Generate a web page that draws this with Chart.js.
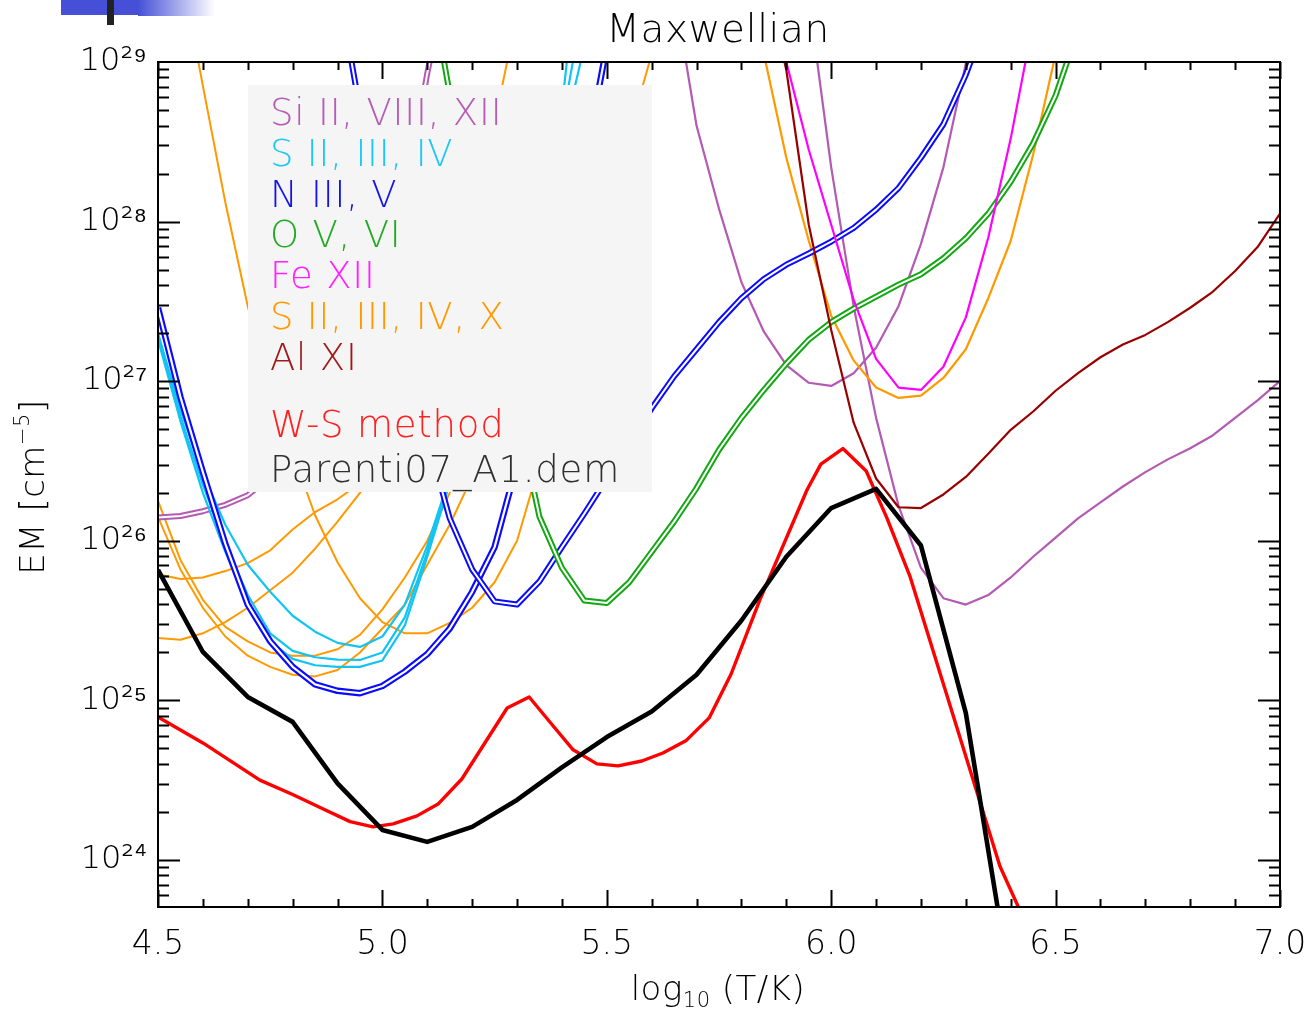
<!DOCTYPE html>
<html><head><meta charset="utf-8">
<script src="https://cdn.jsdelivr.net/npm/chart.js@4.4.0/dist/chart.umd.min.js"></script>
<style>html,body{margin:0;padding:0;background:#fff;}canvas{display:block;}</style>
</head><body>
<canvas id="c" width="1308" height="1013" style="width:1308px;height:1013px"></canvas>
<script>
// ---------------- DATA (log10 T, log10 EM) ----------------
const xTickValues = [4.5, 5.0, 5.5, 6.0, 6.5, 7.0];
const yTickExponents = [24, 25, 26, 27, 28, 29];

// Si II, VIII, XII
const T_SiII = [4.50,4.55,4.60,4.65,4.70,4.75,4.80,4.85,4.90,4.95,5.00,5.05,5.10,5.15];
const logEM_SiII = [26.145,26.155,26.185,26.225,26.285,26.40,26.58,26.80,27.06,27.36,27.70,28.13,28.93,29.60];
const T_SiVIII = [5.65,5.70,5.75,5.80,5.85,5.90,5.95,6.00,6.05,6.10,6.15,6.20,6.25,6.30,6.35];
const logEM_SiVIII = [29.45,28.60,28.08,27.62,27.31,27.10,26.99,26.97,27.05,27.21,27.47,27.86,28.34,28.99,29.60];
const T_SiXII = [5.95,6.00,6.05,6.10,6.15,6.20,6.25,6.30,6.35,6.40,6.45,6.50,6.55,6.60,6.65,6.70,6.75,6.80,6.85,6.90,6.95,7.00];
const logEM_SiXII = [29.40,28.34,27.47,26.77,26.22,25.83,25.64,25.60,25.66,25.77,25.90,26.02,26.14,26.24,26.34,26.43,26.51,26.58,26.66,26.77,26.88,27.00];

// S II, III, IV (cyan)
const T_Scyan = [4.50,4.55,4.60,4.65,4.70,4.75,4.80,4.85,4.90,4.95,5.00,5.05,5.10,5.15,5.20,5.25,5.30,5.35,5.40,5.45];
const logEM_Scyan1 = [27.30,26.82,26.42,26.10,25.85,25.68,25.53,25.43,25.36,25.335,25.40,25.60,25.97,26.40,26.85,27.30,27.75,28.15,28.72,30.00];
const logEM_Scyan2 = [27.28,26.78,26.35,25.98,25.66,25.42,25.31,25.27,25.255,25.253,25.30,25.52,25.93,26.38,26.83,27.27,27.70,28.10,28.62,29.40];
const logEM_Scyan3 = [27.26,26.75,26.30,25.93,25.60,25.37,25.26,25.22,25.21,25.21,25.25,25.47,25.90,26.36,26.80,27.25,27.65,28.05,28.50,29.10];

// N III, V (blue)
const T_NIII = [4.50,4.55,4.60,4.65,4.70,4.75,4.80,4.85,4.90,4.95,5.00,5.05,5.10,5.15,5.20,5.25,5.30,5.35,5.40,5.45,5.50];
const logEM_NIII = [27.46,26.90,26.43,25.98,25.60,25.37,25.21,25.10,25.06,25.045,25.09,25.18,25.29,25.45,25.68,25.96,26.48,27.10,27.70,28.35,29.10];
const T_NV = [4.90,4.95,5.00,5.05,5.10,5.15,5.20,5.25,5.30,5.35,5.40,5.45,5.50,5.55,5.60,5.65,5.70,5.75,5.80,5.85,5.90,5.95,6.00,6.05,6.10,6.15,6.20,6.25,6.30,6.35];
const logEM_NV = [29.50,28.70,28.00,27.30,26.65,26.14,25.82,25.62,25.60,25.745,25.96,26.17,26.39,26.61,26.83,27.03,27.20,27.37,27.52,27.64,27.73,27.80,27.875,27.96,28.075,28.21,28.40,28.61,28.92,29.30];

// O V, VI (green)
const T_O = [5.10,5.15,5.20,5.25,5.30,5.35,5.40,5.45,5.50,5.55,5.60,5.65,5.70,5.75,5.80,5.85,5.90,5.95,6.00,6.05,6.10,6.15,6.20,6.25,6.30,6.35,6.40,6.45,6.50,6.55];
const logEM_O = [29.60,28.80,28.10,27.45,26.80,26.15,25.83,25.625,25.61,25.74,25.93,26.12,26.33,26.57,26.77,26.945,27.11,27.26,27.37,27.455,27.53,27.605,27.67,27.77,27.895,28.05,28.25,28.49,28.79,29.20];

// Fe XII (magenta)
const T_FeXII = [5.85,5.90,5.95,6.00,6.05,6.10,6.15,6.20,6.25,6.30,6.35,6.40,6.45];
const logEM_FeXII = [29.60,29.00,28.45,27.98,27.51,27.14,26.96,26.945,27.09,27.40,27.90,28.52,29.25];

// S II, III, IV, X (orange)
const T_SorA = [4.50,4.55,4.60,4.65,4.70,4.75,4.80,4.85,4.90,4.95,5.00,5.05,5.10,5.15,5.20,5.25,5.30];
const logEM_SorA = [25.79,25.76,25.77,25.81,25.86,25.94,26.07,26.18,26.26,26.36,26.55,26.85,27.25,27.75,28.25,28.62,29.30];
const T_SorB = [4.50,4.55,4.60,4.65,4.70,4.75,4.80,4.85,4.90,4.95,5.00,5.05];
const logEM_SorB = [25.39,25.38,25.42,25.49,25.58,25.69,25.80,25.95,26.12,26.30,26.50,26.75];
const T_SorC = [4.50,4.55,4.60,4.65,4.70,4.75,4.80,4.85,4.90,4.95,5.00,5.05,5.10,5.15,5.20,5.25];
const logEM_SorC = [26.25,25.88,25.63,25.46,25.37,25.30,25.28,25.28,25.32,25.41,25.57,25.77,26.00,26.30,26.65,27.00];
const logEM_SorD = [26.15,25.82,25.58,25.40,25.28,25.21,25.16,25.15,25.19,25.30,25.45,25.60,25.85,26.10,26.40,26.80];
const T_SorE = [4.55,4.60,4.65,4.70,4.75,4.80,4.85,4.90,4.95,5.00,5.05,5.10,5.15,5.20,5.25,5.30,5.35,5.40,5.45,5.50,5.55,5.60];
const logEM_SorE = [29.60,28.85,28.12,27.47,26.95,26.55,26.16,25.865,25.64,25.49,25.42,25.42,25.485,25.58,25.74,26.00,26.48,26.98,27.50,28.02,28.55,29.05];
const T_SX = [5.80,5.85,5.90,5.95,6.00,6.05,6.10,6.15,6.20,6.25,6.30,6.35,6.40,6.45,6.50];
const logEM_SX = [29.60,29.05,28.40,27.88,27.41,27.13,26.96,26.895,26.91,27.02,27.20,27.52,27.88,28.42,29.05];

// Al XI (dark red)
const T_AlXI = [5.85,5.90,5.95,6.00,6.05,6.10,6.15,6.20,6.25,6.30,6.35,6.40,6.45,6.50,6.55,6.60,6.65,6.70,6.75,6.80,6.85,6.90,6.95,7.00];
const logEM_AlXI = [29.55,28.95,27.98,27.32,26.74,26.39,26.21,26.205,26.29,26.40,26.545,26.695,26.81,26.94,27.05,27.15,27.23,27.29,27.37,27.46,27.56,27.69,27.84,28.05];

// W-S method (red)
const T_WS = [4.50,4.60,4.727,4.80,4.86,4.928,4.979,5.024,5.077,5.124,5.177,5.278,5.327,5.375,5.425,5.478,5.525,5.578,5.625,5.676,5.728,5.777,5.841,5.946,5.977,6.026,6.078,6.124,6.176,6.376,6.45];
const logEM_WS = [24.896,24.733,24.50,24.41,24.33,24.24,24.207,24.226,24.276,24.35,24.507,24.952,25.021,24.858,24.69,24.602,24.589,24.62,24.67,24.746,24.89,25.165,25.63,26.318,26.48,26.578,26.437,26.143,25.773,23.96,23.50];

// Parenti07_A1.dem (black)
const T_DEM = [4.5,4.6,4.7,4.8,4.9,5.0,5.1,5.2,5.3,5.4,5.5,5.6,5.7,5.8,5.9,6.0,6.1,6.2,6.3,6.4];
const logEM_DEM = [25.817,25.303,25.021,24.865,24.48,24.188,24.113,24.207,24.376,24.58,24.77,24.93,25.16,25.50,25.90,26.205,26.325,25.97,24.92,23.20];

const legendEntries = ['Si II, VIII, XII','S II, III, IV','N III, V','O V, VI','Fe XII','S II, III, IV, X','Al XI','W-S method','Parenti07_A1.dem'];

// ---------------- BUILD ----------------
const FONT = "'DejaVu Sans', 'Liberation Sans', sans-serif";
const C = {si:'#b35ab3', cyan:'#12c4f2', blue:'#0a0aff', green:'#12a812', mag:'#ff00ff', orange:'#ff9900', al:'#990000', red:'#ff0000', black:'#000000'};
function pts(T, E){ return T.map((t,i)=>({x:t, y:Math.pow(10, E[i])})); }

const specs = [];
function line(T,E,color,w){ specs.push({data:pts(T,E), borderColor:color, borderWidth:w}); }
function dbl(T,E,color,w){ line(T,E,color,w); line(T,E,'#ffffff',Math.max(1.6,w/3)); }

line(T_SorB, logEM_SorB, C.orange, 2);
line(T_SorA, logEM_SorA, C.orange, 2);
line(T_SorC, logEM_SorC, C.orange, 2);
line(T_SorC, logEM_SorD, C.orange, 2);
line(T_SorE, logEM_SorE, C.orange, 2);
dbl(T_SiII, logEM_SiII, C.si, 6);
line(T_SiVIII, logEM_SiVIII, C.si, 2.2);
line(T_SiXII, logEM_SiXII, C.si, 2.2);
line(T_SX, logEM_SX, C.orange, 2.2);
line(T_Scyan, logEM_Scyan1, C.cyan, 2.2);
line(T_Scyan, logEM_Scyan2, C.cyan, 2.2);
line(T_Scyan, logEM_Scyan3, C.cyan, 2.2);
dbl(T_NIII, logEM_NIII, C.blue, 6.5);
dbl(T_NV, logEM_NV, C.blue, 6);
dbl(T_O, logEM_O, C.green, 6);
line(T_FeXII, logEM_FeXII, C.mag, 2.2);
line(T_AlXI, logEM_AlXI, C.al, 2.2);
line(T_WS, logEM_WS, C.red, 3.4);
line(T_DEM, logEM_DEM, C.black, 4.6);

const N = specs.length;
const datasets = specs.map((s,i)=>({
  data:s.data, borderColor:s.borderColor, borderWidth:s.borderWidth,
  pointRadius:0, tension:0, fill:false, order:N-i, borderJoinStyle:'round', borderCapStyle:'butt'
}));

const supMap = {'0':'⁰','1':'¹','2':'²','3':'³','4':'⁴','5':'⁵','6':'⁶','7':'⁷','8':'⁸','9':'⁹','-':'⁻'};
const sup = n => String(n).split('').map(c=>supMap[c]).join('');

const legendColors = ['#b55cb5','#1ec8f5','#1414e6','#22aa22','#ff22ff','#ff9900','#a01818','#ff2020','#303030'];
const legendBaselines = [125,166,207,247,288,329,370,437,482];
const W = '300 ';

// draws pieces [text, sizeScale, baselineShift] left to right, centred on (0,0)
function drawPieces(ctx, pieces, size){
  let total = 0;
  const ws = pieces.map(p=>{ ctx.font = W + Math.round(size*p[1]) + 'px ' + FONT; const w = ctx.measureText(p[0]).width; total += w; return w; });
  let x = -total/2;
  ctx.textAlign = 'left';
  pieces.forEach((p,i)=>{ ctx.font = W + Math.round(size*p[1]) + 'px ' + FONT; ctx.fillText(p[0], x, p[2]*size); x += ws[i]; });
}

const decor = {
  id:'decor',
  beforeDraw(chart){
    const ctx = chart.ctx; ctx.save();
    ctx.fillStyle='#ffffff'; ctx.fillRect(0,0,chart.width,chart.height);
    ctx.fillStyle='#4650d6'; ctx.fillRect(61,0,78,15);
    const g = ctx.createLinearGradient(138,0,215,0);
    g.addColorStop(0,'rgba(70,80,214,1)'); g.addColorStop(1,'rgba(70,80,214,0)');
    ctx.fillStyle=g; ctx.fillRect(138,0,77,16);
    ctx.fillStyle='#222222'; ctx.fillRect(107,0,7,25);
    ctx.restore();
  },
  afterDatasetsDraw(chart){
    const ctx = chart.ctx; ctx.save();
    ctx.fillStyle='#f5f5f5'; ctx.fillRect(248,85,404,407);
    ctx.font = W + '37px ' + FONT; ctx.textAlign='left'; ctx.textBaseline='alphabetic';
    try { ctx.letterSpacing = '0.8px'; } catch(e) {}
    legendEntries.forEach((t,i)=>{ ctx.fillStyle=legendColors[i]; ctx.fillText(t, 270, legendBaselines[i]); });
    ctx.restore();
  },
  afterDraw(chart){
    const ctx = chart.ctx, a = chart.chartArea, xs = chart.scales.x, ys = chart.scales.y;
    ctx.save();
    ctx.strokeStyle='#000'; ctx.lineWidth=2;
    ctx.strokeRect(a.left, a.top, a.right-a.left, a.bottom-a.top);
    ctx.beginPath();
    for (let k=0;k<=25;k++){
      const v = 4.5 + k*0.1, px = Math.round(xs.getPixelForValue(v))+0.5;
      const len = (k%5===0)?17:8;
      ctx.moveTo(px,a.bottom); ctx.lineTo(px,a.bottom-len);
      ctx.moveTo(px,a.top); ctx.lineTo(px,a.top+len);
    }
    for (let d=23; d<=28; d++){
      for (let m=1; m<=9; m++){
        const val = m*Math.pow(10,d);
        if (val < ys.min*0.999 || val > ys.max*1.001) continue;
        const py = Math.round(ys.getPixelForValue(val))+0.5;
        const len = (m===1)?22:11;
        ctx.moveTo(a.left,py); ctx.lineTo(a.left+len,py);
        ctx.moveTo(a.right,py); ctx.lineTo(a.right-len,py);
      }
    }
    ctx.lineWidth=2; ctx.stroke();
    // titles
    ctx.fillStyle='#000'; ctx.textBaseline='alphabetic';
    try { ctx.letterSpacing = '0.6px'; } catch(e) {}
    ctx.font=W+'39px '+FONT; ctx.textAlign='center';
    ctx.fillText('Maxwellian', 718, 42);
    try { ctx.letterSpacing = '0.5px'; } catch(e) {}
    ctx.save(); ctx.translate(718, 1000);
    drawPieces(ctx, [['log',1,0],['10',0.62,0.22],[' (T/K)',1,0]], 34);
    ctx.restore();
    ctx.save(); ctx.translate(44, 487); ctx.rotate(-Math.PI/2);
    drawPieces(ctx, [['EM [cm',1,0],['−5',0.62,-0.45],[']',1,0]], 34);
    ctx.restore();
    ctx.restore();
  }
};

new Chart(document.getElementById('c'), {
  type:'line',
  data:{datasets},
  options:{
    responsive:false, animation:false, devicePixelRatio:1,
    layout:{padding:{left:0,right:28,top:62,bottom:0}},
    plugins:{legend:{display:false}, tooltip:{enabled:false}, title:{display:false}},
    scales:{
      x:{type:'linear', min:4.5, max:7.0,
        afterBuildTicks:s=>{ s.ticks = xTickValues.map(v=>({value:v})); },
        afterFit:s=>{ s.height = 106; s.paddingLeft = 0; s.paddingRight = 0; },
        ticks:{callback:v=>Number(v).toFixed(1), font:{family:FONT,size:33,weight:'300'}, color:'#000', padding:19, maxRotation:0, autoSkip:false},
        grid:{display:false, drawTicks:false}, border:{display:false}},
      y:{type:'logarithmic', min:Math.pow(10,23.705), max:1e29,
        afterBuildTicks:s=>{ s.ticks = yTickExponents.map(e=>({value:Math.pow(10,e)})); },
        afterFit:s=>{ s.width = 158; s.paddingTop = 0; s.paddingBottom = 0; },
        ticks:{callback:v=>'10'+sup(Math.round(Math.log10(v))), font:{family:FONT,size:32,weight:'300'}, color:'#000', padding:11, autoSkip:false},
        grid:{display:false, drawTicks:false}, border:{display:false}}
    }
  },
  plugins:[decor]
});
</script></body></html>
